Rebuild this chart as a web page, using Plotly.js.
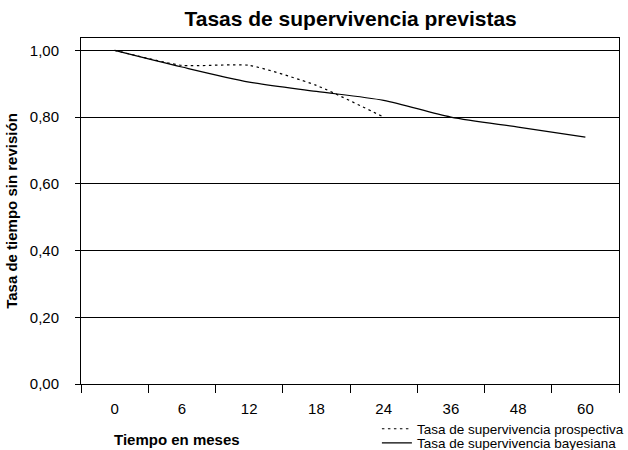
<!DOCTYPE html>
<html>
<head>
<meta charset="utf-8">
<script src="https://cdn.plot.ly/plotly-3.0.1.min.js"></script>
<style>html,body{margin:0;padding:0;background:#fff;}</style>
</head>
<body>
<div id="chart" style="width:628px;height:450px;"></div>
<script>
const months = ['0', '6', '12', '18', '24', '36', '48', '60'];
const prospectiva = [1.00, 0.955, 0.955, 0.895, 0.80];
const bayesiana = [1.00, 0.95, 0.905, 0.877, 0.85, 0.80, 0.77, 0.74];
const yTicks = [0, 0.2, 0.4, 0.6, 0.8, 1.0];
const names = ['Tasa de supervivencia prospectiva', 'Tasa de supervivencia bayesiana'];

const FONT = 'Liberation Sans, Arial, Helvetica, sans-serif';
const LEGFONT = 'Liberation Sans Narrow, Arial Narrow, Liberation Sans, sans-serif';

const traces = [
  {
    x: months.slice(0, prospectiva.length), y: prospectiva, name: names[0],
    type: 'scatter', mode: 'lines',
    line: {color: '#000', width: 1.2, dash: '2.5px,3.5px', shape: 'spline', smoothing: 0.55},
    legend: 'legend'
  },
  {
    x: months, y: bayesiana, name: names[1],
    type: 'scatter', mode: 'lines',
    line: {color: '#000', width: 1.2, shape: 'spline', smoothing: 0.8},
    legend: 'legend2'
  }
];

const legendCommon = {
  font: {family: LEGFONT, size: 13.5, color: '#000'},
  bgcolor: 'rgba(0,0,0,0)', borderwidth: 0,
  xanchor: 'left', yanchor: 'middle',
  itemwidth: 30, tracegroupgap: 0
};

const layout = {
  width: 628, height: 450,
  margin: {l: 81, r: 9, t: 38, b: 66, autoexpand: false},
  paper_bgcolor: '#fff', plot_bgcolor: '#fff',
  font: {family: FONT, size: 15, color: '#000'},
  separators: ',.',
  showlegend: true,
  title: {
    text: 'Tasas de supervivencia previstas',
    font: {family: FONT, size: 21, color: '#000', weight: 'bold'},
    x: 0.5583, xanchor: 'center', y: 0.958, yanchor: 'middle'
  },
  xaxis: {
    type: 'category', categoryorder: 'array', categoryarray: months,
    range: [-0.5, 7.5],
    showline: true, linecolor: '#000', linewidth: 1, mirror: true,
    ticks: 'outside', ticklen: 8, tickcolor: '#000', tickwidth: 1,
    tickson: 'boundaries',
    showgrid: false, zeroline: false,
    tickfont: {family: FONT, size: 15, color: '#000'},
    ticklabelstandoff: 11
  },
  yaxis: {
    range: [0, 1.037],
    tickvals: yTicks, tickformat: '.2f',
    showline: true, linecolor: '#000', linewidth: 1, mirror: true,
    ticks: 'outside', ticklen: 5, tickcolor: '#000', tickwidth: 1,
    showgrid: true, gridcolor: '#000', gridwidth: 1,
    zeroline: false,
    tickfont: {family: FONT, size: 15, color: '#000'},
    ticklabelstandoff: 13,
    title: {
      text: 'Tasa de tiempo sin revisión',
      font: {family: FONT, size: 15, color: '#000', weight: 'bold'},
      standoff: 8
    }
  },
  legend: Object.assign({}, legendCommon, {x: 0.55, y: -0.13}),
  legend2: Object.assign({}, legendCommon, {x: 0.55, y: -0.171}),
  annotations: [
    {
      text: 'Tiempo en meses', xref: 'paper', yref: 'paper',
      x: 0.178, y: -0.159, xanchor: 'center', yanchor: 'middle', showarrow: false,
      font: {family: FONT, size: 15, color: '#000', weight: 'bold'}
    }
  ]
};

Plotly.newPlot('chart', traces, layout, {displayModeBar: false, staticPlot: true});
</script>
</body>
</html>
